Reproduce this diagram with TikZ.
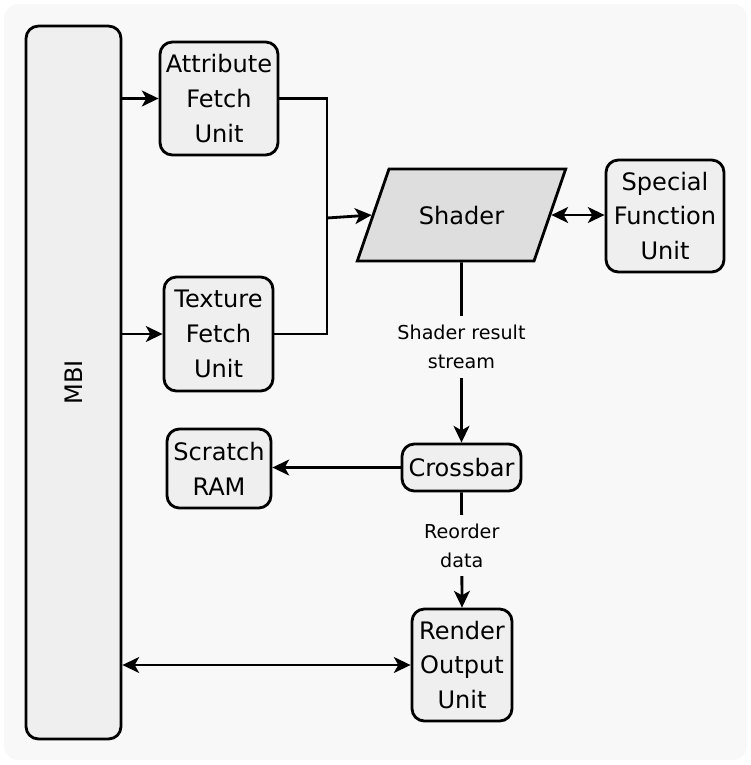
\documentclass[tikz,border=0pt]{standalone}
\usepackage{fontspec}
\setmainfont{DejaVu Sans}
\usepackage{tikz}
\usetikzlibrary{shapes.geometric,arrows.meta}

\definecolor{bggray}{HTML}{F8F8F8}
\definecolor{boxgray}{HTML}{EFEFEF}
\definecolor{shadergray}{HTML}{DEDEDE}

\tikzset{
  unit/.style={draw=black, line width=1.6pt, rounded corners=7pt, fill=boxgray,
    align=center, inner sep=0pt, font=\fontsize{13.7}{19.9}\selectfont},
  lbl/.style={fill=bggray, align=center, inner sep=5pt,
    font=\fontsize{10.9}{16.5}\selectfont},
  wire/.style={line width=1.6pt},
  tip/.tip={Stealth[length=9.5pt,width=9pt,inset=2.5pt]}
}

\begin{document}
\begin{tikzpicture}[x=0.02cm, y=-0.02cm]
\useasboundingbox (0,0) rectangle (751,765);
\fill[bggray, rounded corners=8pt] (4,4) rectangle (747,760);

    \node[unit, minimum width=1.9cm, minimum height=14.26cm] at (73.5,382.5) (mbi) {\rotatebox{90}{MBI}};
    \node[unit, minimum width=2.36cm, minimum height=2.26cm] at (219,98.5) (att) {Attribute\\Fetch\\Unit};
    \node[unit, minimum width=2.18cm, minimum height=2.28cm] at (218.5,334) (tex) {Texture\\Fetch\\Unit};
    \node[trapezium, trapezium left angle=71, trapezium right angle=109,
      draw=black, line width=1.6pt, fill=shadergray, inner xsep=17pt, inner ysep=21pt,
      text height=10.4pt, text depth=0pt,
      font=\fontsize{13.7}{19.9}\selectfont] at (461.5,215) (shader) {Shader};
    \node[unit, minimum width=2.36cm, minimum height=2.24cm] at (665,216) (sfu) {Special\\Function\\Unit};
    \node[unit, minimum width=2.38cm, minimum height=0.94cm] at (461.5,467.5) (xbar) {Crossbar};
    \node[unit, minimum width=2.08cm, minimum height=1.58cm] at (219,468.5) (ram) {Scratch\\RAM};
    \node[unit, minimum width=2.0cm, minimum height=2.24cm] at (462,665) (rou) {Render\\Output\\Unit};

    \coordinate (join) at (327,218);
    \draw[wire] (att.east) -| (join);
    \draw[wire] (tex.east) -| (join);
    \draw[wire, -tip] (join) -- (shader.left side);
    \draw[wire, -tip] (mbi.east |- att.west) -- (att.west);
    \draw[wire, -tip] (mbi.east |- tex.west) -- (tex.west);
    \draw[wire, tip-tip] (shader.right side) -- (shader.right side -| sfu.west);
    \draw[wire, -tip] (shader.south) -- node[lbl, pos=0.47] {Shader result\\stream} (xbar.north);
    \draw[wire, -tip] (xbar.west) -- (xbar.west -| ram.east);
    \draw[wire, -tip] (xbar.south) -- node[lbl, pos=0.46] {Reorder\\data} (rou.north);
    \draw[wire, tip-tip] (mbi.east |- rou.west) -- (rou.west);
\end{tikzpicture}
\end{document}
